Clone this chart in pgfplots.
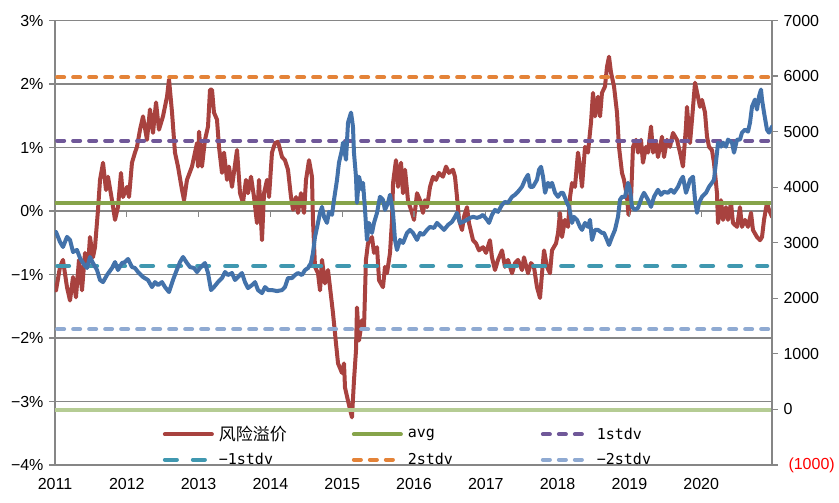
\documentclass[border=0pt]{standalone}
\usepackage{pgfplots}
\pgfplotsset{compat=1.18}
\usepackage{fontspec}
\setmainfont{Liberation Sans}
\newfontfamily\cjk{Noto Sans CJK SC}
\newfontfamily\mono{DejaVu Sans Mono}
\definecolor{cred}{RGB}{168,66,63}
\definecolor{cblue}{RGB}{67,114,170}
\definecolor{cgreen}{RGB}{134,164,74}
\definecolor{cpurple}{RGB}{112,88,153}
\definecolor{cteal}{RGB}{64,152,176}
\definecolor{corange}{RGB}{228,131,56}
\definecolor{clblue}{RGB}{143,170,210}
\definecolor{clgreen}{RGB}{181,204,148}
\definecolor{gridgray}{RGB}{134,134,134}
\begin{document}
\begin{tikzpicture}
\begin{axis}[
 at={(55pt,38pt)}, anchor=south west,
 scale only axis, width=717pt, height=444.5pt,
 xmin=2011, xmax=2020.986, ymin=-4, ymax=3,
 ytick={-4,-3,-2,-1,0,1,2,3},
 yticklabels={−4\%,−3\%,−2\%,−1\%,0\%,1\%,2\%,3\%},
 xtick={2011,2012,2013,2014,2015,2016,2017,2018,2019,2020},
 xticklabels={2011,2012,2013,2014,2015,2016,2017,2018,2019,2020},
 ymajorgrids, grid style={gridgray, line width=1.2pt},
 axis line style={gridgray, line width=1.2pt},
 ytick pos=left, tick align=outside, major tick length=6pt,
 ytick style={gridgray, line width=1.2pt},
 xtick style={draw=none},
 tick label style={font=\fontsize{16}{19}\selectfont, text=black},
 yticklabel style={xshift=-2pt},
 xticklabel style={yshift=-4pt},
 legend columns=3,
 legend style={at={(0.146,0.092)}, anchor=north west, draw=none, fill=none,
   nodes={inner sep=0pt}, row sep=11pt,
   /tikz/every odd column/.style={column sep=5pt}},
 legend image code/.code={\draw[#1] (0pt,0pt) -- (47pt,0pt);},
]
\addplot[cred, line width=4pt, line join=round, line cap=round] coordinates {
(2011.014,-1.25)(2011.070,-0.88)(2011.111,-0.77)(2011.167,-1.20)(2011.209,-1.41)(2011.251,-1.04)(2011.292,-1.36)(2011.334,-0.77)(2011.376,-1.25)(2011.418,-0.66)(2011.460,-0.88)(2011.487,-0.41)(2011.529,-0.73)(2011.557,-0.57)(2011.599,0.02)(2011.627,0.49)(2011.669,0.76)(2011.710,0.33)(2011.738,0.54)(2011.794,0.17)(2011.836,-0.14)(2011.877,0.06)(2011.919,0.60)(2011.947,0.22)(2012.003,0.38)(2012.031,0.22)(2012.072,0.76)(2012.114,0.92)(2012.142,1.01)(2012.184,1.28)(2012.226,1.49)(2012.281,1.12)(2012.323,1.60)(2012.365,1.23)(2012.407,1.71)(2012.448,1.28)(2012.504,1.49)(2012.560,1.80)(2012.588,2.07)(2012.630,1.55)(2012.671,0.92)(2012.713,0.70)(2012.769,0.33)(2012.797,0.17)(2012.838,0.49)(2012.908,0.70)(2012.978,1.07)(2012.992,0.70)(2013.006,1.25)(2013.047,0.70)(2013.089,1.12)(2013.131,1.33)(2013.159,1.91)(2013.187,1.91)(2013.214,1.55)(2013.256,1.44)(2013.284,1.01)(2013.326,0.60)(2013.354,0.92)(2013.396,0.49)(2013.423,0.70)(2013.465,0.38)(2013.535,0.96)(2013.577,0.28)(2013.618,0.13)(2013.660,0.49)(2013.688,0.28)(2013.730,0.54)(2013.772,0.22)(2013.813,-0.19)(2013.841,0.49)(2013.883,-0.46)(2013.911,0.28)(2013.953,0.49)(2013.981,0.22)(2014.022,0.92)(2014.064,1.07)(2014.106,1.09)(2014.162,0.85)(2014.203,0.80)(2014.245,0.65)(2014.287,0.22)(2014.315,0.02)(2014.357,0.22)(2014.384,-0.03)(2014.426,0.28)(2014.468,-0.03)(2014.496,0.49)(2014.538,0.80)(2014.579,0.54)(2014.593,-0.14)(2014.621,-0.88)(2014.663,-0.98)(2014.691,-1.25)(2014.719,-0.77)(2014.760,-1.14)(2014.802,-0.93)(2014.830,-1.20)(2014.872,-1.61)(2014.914,-2.09)(2014.942,-2.40)(2014.997,-2.55)(2015.025,-2.40)(2015.039,-2.78)(2015.081,-2.99)(2015.136,-3.25)(2015.164,-2.67)(2015.192,-2.20)(2015.206,-1.52)(2015.234,-2.04)(2015.276,-1.72)(2015.304,-1.83)(2015.331,-0.77)(2015.359,-0.51)(2015.415,-0.41)(2015.443,-0.66)(2015.485,-0.57)(2015.513,-1.09)(2015.568,-1.20)(2015.596,-0.88)(2015.624,-0.98)(2015.666,-0.66)(2015.694,-0.14)(2015.708,0.44)(2015.749,0.80)(2015.777,0.38)(2015.819,0.76)(2015.847,0.28)(2015.875,0.65)(2015.916,0.17)(2015.972,-0.03)(2016.000,-0.14)(2016.042,0.28)(2016.084,0.17)(2016.125,-0.03)(2016.153,0.17)(2016.181,0.06)(2016.223,0.38)(2016.265,0.54)(2016.306,0.49)(2016.348,0.60)(2016.404,0.54)(2016.446,0.70)(2016.487,0.60)(2016.543,0.65)(2016.571,0.54)(2016.599,0.22)(2016.627,-0.14)(2016.669,-0.30)(2016.696,-0.09)(2016.738,0.06)(2016.766,-0.19)(2016.822,-0.46)(2016.864,-0.51)(2016.905,-0.62)(2016.961,-0.57)(2017.003,-0.66)(2017.058,-0.46)(2017.086,-0.73)(2017.128,-0.93)(2017.170,-0.77)(2017.226,-0.62)(2017.267,-0.88)(2017.309,-0.77)(2017.365,-0.98)(2017.407,-0.82)(2017.448,-0.77)(2017.504,-0.93)(2017.532,-0.73)(2017.588,-0.98)(2017.630,-0.82)(2017.671,-0.88)(2017.713,-1.20)(2017.755,-1.37)(2017.783,-0.98)(2017.811,-0.62)(2017.852,-0.88)(2017.894,-0.98)(2017.922,-0.62)(2017.978,-0.51)(2018.006,-0.35)(2018.033,-0.03)(2018.061,-0.41)(2018.103,-0.14)(2018.145,-0.25)(2018.173,0.22)(2018.201,0.44)(2018.242,0.38)(2018.284,0.92)(2018.312,0.70)(2018.340,0.38)(2018.382,1.01)(2018.423,0.92)(2018.465,1.39)(2018.493,1.86)(2018.521,1.49)(2018.563,1.80)(2018.591,1.49)(2018.618,1.86)(2018.660,1.96)(2018.688,2.27)(2018.716,2.43)(2018.744,2.18)(2018.786,1.96)(2018.827,1.55)(2018.855,1.01)(2018.897,0.60)(2018.925,0.49)(2018.967,0.22)(2018.987,-0.06)(2019.022,0.17)(2019.050,1.01)(2019.092,1.12)(2019.120,0.92)(2019.162,1.12)(2019.189,0.76)(2019.231,1.01)(2019.259,0.92)(2019.301,1.33)(2019.329,0.92)(2019.370,1.07)(2019.398,0.85)(2019.454,1.17)(2019.482,0.85)(2019.524,1.12)(2019.565,1.01)(2019.607,1.23)(2019.663,1.12)(2019.705,0.92)(2019.746,0.70)(2019.788,1.33)(2019.802,1.64)(2019.844,1.07)(2019.872,1.44)(2019.914,2.02)(2019.955,1.80)(2019.983,1.64)(2020.011,1.75)(2020.053,1.55)(2020.081,1.17)(2020.109,1.01)(2020.150,0.96)(2020.178,0.76)(2020.220,0.28)(2020.234,-0.19)(2020.276,0.17)(2020.304,-0.14)(2020.345,0.06)(2020.373,-0.14)(2020.415,0.13)(2020.443,-0.19)(2020.499,-0.25)(2020.540,0.06)(2020.568,-0.25)(2020.610,-0.14)(2020.652,-0.25)(2020.694,-0.03)(2020.721,-0.30)(2020.777,-0.41)(2020.819,-0.46)(2020.847,-0.41)(2020.875,-0.14)(2020.916,0.13)(2020.944,0.02)(2020.986,-0.09)
};
\addlegendentry{\makebox[133pt][l]{\cjk\fontsize{17}{20}\selectfont 风险溢价}}
\addplot[cgreen, line width=4pt, line cap=round] coordinates {(2011,0.130)(2020.986,0.130)};
\addlegendentry{\makebox[133pt][l]{\mono\fontsize{15}{17}\selectfont avg}}
\addplot[cpurple, line width=4pt, line cap=round, dash pattern=on 7pt off 9pt] coordinates {(2011.03,1.107)(2020.96,1.107)};
\addlegendentry{\makebox[133pt][l]{\mono\fontsize{15}{17}\selectfont 1stdv}}
\addplot[cteal, line width=4pt, line cap=round, dash pattern=on 12pt off 16pt] coordinates {(2011.03,-0.866)(2020.92,-0.866)};
\addlegendentry{\makebox[133pt][l]{\mono\fontsize{15}{17}\selectfont −1stdv}}
\addplot[corange, line width=4pt, line cap=round, dash pattern=on 7pt off 9pt] coordinates {(2011.03,2.105)(2020.96,2.105)};
\addlegendentry{\makebox[133pt][l]{\mono\fontsize{15}{17}\selectfont 2stdv}}
\addplot[clblue, line width=4pt, line cap=round, dash pattern=on 7pt off 9pt] coordinates {(2011.03,-1.86)(2020.96,-1.86)};
\addlegendentry{\makebox[133pt][l]{\mono\fontsize{15}{17}\selectfont −2stdv}}
\addplot[clgreen, line width=4pt, forget plot] coordinates {(2011,-3.13)(2020.986,-3.13)};
\foreach \yr in {2012,2013,2014,2015,2016,2017,2018,2019,2020} {
  \edef\tmp{\noexpand\draw[gridgray, line width=1.2pt] (axis cs:\yr,0) -- ++(0pt,-6pt);}\tmp
}
\end{axis}
\begin{axis}[
 at={(55pt,38pt)}, anchor=south west,
 scale only axis, width=717pt, height=444.5pt,
 xmin=2011, xmax=2020.986, ymin=-1000, ymax=7000,
 axis x line=none, axis y line*=right,
 axis line style={gridgray, line width=1.2pt},
 ytick={-1000,0,1000,2000,3000,4000,5000,6000,7000},
 yticklabels={\hspace{5pt}\textcolor{red}{(1000)},0,1000,2000,3000,4000,5000,6000,7000},
 tick align=outside, major tick length=6pt,
 ytick style={gridgray, line width=1.2pt},
 tick label style={font=\fontsize{16}{19}\selectfont, text=black},
 yticklabel style={anchor=west, xshift=2pt},
]
\addplot[cblue, line width=4pt, line join=round, line cap=round] coordinates {
(2011.014,3195)(2011.070,3014)(2011.111,2924)(2011.167,3105)(2011.209,3050)(2011.251,2834)(2011.306,2870)(2011.348,2726)(2011.390,2635)(2011.446,2545)(2011.487,2744)(2011.529,2635)(2011.585,2509)(2011.627,2329)(2011.669,2292)(2011.724,2419)(2011.794,2545)(2011.836,2653)(2011.877,2509)(2011.933,2635)(2011.975,2653)(2012.017,2708)(2012.072,2563)(2012.114,2545)(2012.156,2473)(2012.226,2383)(2012.295,2329)(2012.351,2202)(2012.393,2292)(2012.435,2238)(2012.490,2292)(2012.532,2202)(2012.588,2112)(2012.643,2329)(2012.685,2473)(2012.741,2653)(2012.783,2744)(2012.838,2635)(2012.880,2563)(2012.936,2545)(2012.978,2473)(2013.019,2545)(2013.089,2635)(2013.131,2455)(2013.173,2148)(2013.214,2202)(2013.270,2292)(2013.326,2365)(2013.368,2473)(2013.409,2419)(2013.465,2455)(2013.507,2329)(2013.549,2383)(2013.604,2455)(2013.646,2292)(2013.688,2184)(2013.744,2238)(2013.786,2292)(2013.827,2148)(2013.883,2094)(2013.925,2202)(2013.967,2148)(2014.022,2148)(2014.092,2130)(2014.162,2148)(2014.203,2202)(2014.245,2365)(2014.301,2365)(2014.343,2419)(2014.384,2455)(2014.440,2419)(2014.482,2509)(2014.524,2545)(2014.565,2635)(2014.593,2816)(2014.621,3105)(2014.663,3357)(2014.691,3538)(2014.719,3646)(2014.747,3466)(2014.788,3357)(2014.816,3556)(2014.858,3502)(2014.886,3773)(2014.928,4134)(2014.955,4440)(2014.997,4675)(2015.011,4801)(2015.053,4495)(2015.081,5162)(2015.123,5343)(2015.150,5090)(2015.164,4621)(2015.192,4188)(2015.206,3718)(2015.234,4188)(2015.276,3953)(2015.290,4079)(2015.318,3592)(2015.345,3051)(2015.373,3357)(2015.415,3177)(2015.443,3357)(2015.485,3538)(2015.526,3827)(2015.568,3773)(2015.596,3592)(2015.638,3718)(2015.666,3863)(2015.708,3538)(2015.735,3051)(2015.763,2870)(2015.805,3051)(2015.847,2996)(2015.903,3177)(2015.944,3231)(2015.986,3177)(2016.042,3051)(2016.084,3177)(2016.125,3141)(2016.181,3231)(2016.223,3285)(2016.279,3267)(2016.320,3357)(2016.376,3285)(2016.418,3231)(2016.474,3321)(2016.529,3375)(2016.571,3466)(2016.599,3538)(2016.641,3357)(2016.682,3375)(2016.738,3412)(2016.780,3448)(2016.822,3466)(2016.877,3448)(2016.919,3466)(2016.961,3502)(2017.017,3412)(2017.045,3357)(2017.086,3502)(2017.128,3592)(2017.170,3556)(2017.226,3682)(2017.267,3736)(2017.309,3718)(2017.365,3827)(2017.407,3863)(2017.448,3917)(2017.504,4007)(2017.546,4134)(2017.588,4224)(2017.616,4007)(2017.657,4007)(2017.713,4134)(2017.741,4314)(2017.769,4368)(2017.797,4188)(2017.825,3899)(2017.866,4079)(2017.894,4007)(2017.922,4079)(2017.964,3899)(2018.006,3827)(2018.047,3899)(2018.075,3899)(2018.131,3718)(2018.159,3646)(2018.201,3357)(2018.228,3466)(2018.270,3412)(2018.312,3285)(2018.340,3231)(2018.382,3357)(2018.423,3285)(2018.451,3412)(2018.479,3051)(2018.521,3231)(2018.563,3231)(2018.618,3177)(2018.646,3177)(2018.688,3051)(2018.716,2960)(2018.758,3105)(2018.799,3231)(2018.841,3466)(2018.869,3773)(2018.897,3827)(2018.939,3827)(2018.981,4079)(2019.008,3953)(2019.036,3646)(2019.078,3592)(2019.120,3628)(2019.175,3827)(2019.203,3899)(2019.259,3773)(2019.301,3646)(2019.343,3827)(2019.398,3953)(2019.440,3863)(2019.482,3917)(2019.538,3899)(2019.579,3953)(2019.621,3899)(2019.677,4007)(2019.719,4134)(2019.746,4188)(2019.788,3899)(2019.816,4007)(2019.844,4134)(2019.886,4188)(2019.914,3773)(2019.942,3538)(2019.969,3718)(2020.011,3827)(2020.067,3899)(2020.109,4007)(2020.150,4079)(2020.178,4134)(2020.220,4621)(2020.234,4801)(2020.276,4729)(2020.304,4801)(2020.345,4729)(2020.373,4856)(2020.429,4801)(2020.457,4621)(2020.499,4856)(2020.540,4856)(2020.568,4982)(2020.610,5036)(2020.652,5000)(2020.680,5162)(2020.708,5451)(2020.749,5577)(2020.777,5397)(2020.805,5632)(2020.833,5758)(2020.847,5577)(2020.875,5343)(2020.916,5036)(2020.944,4982)(2020.986,5090)
};
\end{axis}
\pgfresetboundingbox
\path[use as bounding box] (0pt,0pt) rectangle (839pt,503pt);
\end{tikzpicture}
\end{document}
